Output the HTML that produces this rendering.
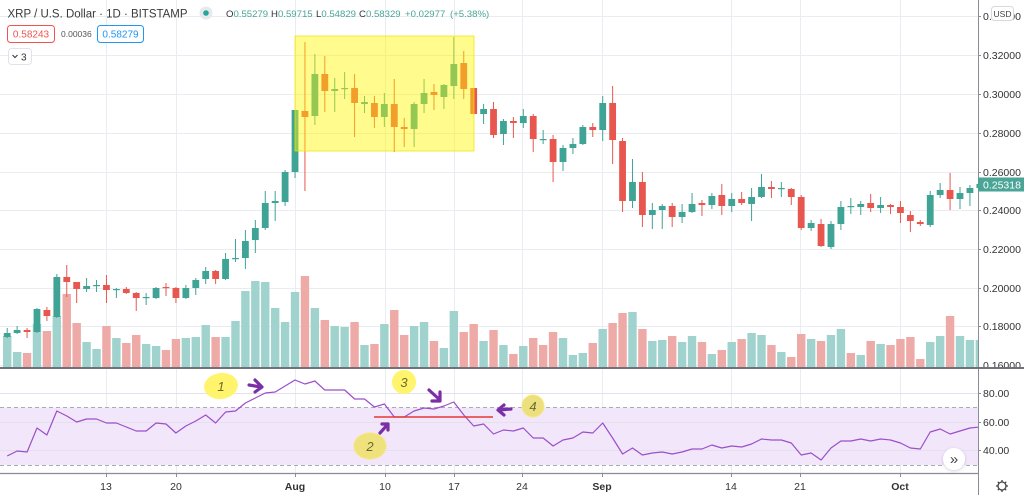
<!DOCTYPE html>
<html><head><meta charset="utf-8">
<style>
html,body{margin:0;padding:0;background:#fff;}
body{width:1024px;height:495px;overflow:hidden;position:relative;font-family:"Liberation Sans",sans-serif;}
svg{position:absolute;left:0;top:0;}
</style></head><body>
<svg id="c" width="1024" height="495" viewBox="0 0 1024 495" font-family="Liberation Sans, sans-serif">
<defs>
  <clipPath id="mp"><rect x="0" y="0" width="978" height="367"/></clipPath>
  <clipPath id="rp"><rect x="0" y="369" width="978" height="104"/></clipPath>
  <filter id="sh" x="-50%" y="-50%" width="200%" height="200%"><feDropShadow dx="0" dy="1" stdDeviation="1.5" flood-color="#000" flood-opacity="0.18"/></filter>
</defs>
<rect x="0" y="0" width="1024" height="495" fill="#fff"/>
<!-- grid -->
<g stroke="#e9edf1" stroke-width="1">
  <line x1="106.5" y1="0" x2="106.5" y2="473"/>
  <line x1="176.5" y1="0" x2="176.5" y2="473"/>
  <line x1="295.5" y1="0" x2="295.5" y2="473"/>
  <line x1="385.5" y1="0" x2="385.5" y2="473"/>
  <line x1="454.5" y1="0" x2="454.5" y2="473"/>
  <line x1="522.5" y1="0" x2="522.5" y2="473"/>
  <line x1="602.5" y1="0" x2="602.5" y2="473"/>
  <line x1="731.5" y1="0" x2="731.5" y2="473"/>
  <line x1="800.5" y1="0" x2="800.5" y2="473"/>
  <line x1="900.5" y1="0" x2="900.5" y2="473"/>
  <line x1="0" y1="16.5" x2="978" y2="16.5"/>
  <line x1="0" y1="55.5" x2="978" y2="55.5"/>
  <line x1="0" y1="94.5" x2="978" y2="94.5"/>
  <line x1="0" y1="133.5" x2="978" y2="133.5"/>
  <line x1="0" y1="172.5" x2="978" y2="172.5"/>
  <line x1="0" y1="210.5" x2="978" y2="210.5"/>
  <line x1="0" y1="249.5" x2="978" y2="249.5"/>
  <line x1="0" y1="288.5" x2="978" y2="288.5"/>
  <line x1="0" y1="326.5" x2="978" y2="326.5"/>
  <line x1="0" y1="365.5" x2="978" y2="365.5"/>
</g>
<!-- RSI band -->
<rect x="0" y="407.5" width="978" height="57.5" fill="#f2e6fb"/>
<g stroke="#e6e0ee" stroke-width="1">
  <line x1="0" y1="393.5" x2="978" y2="393.5"/>
  <line x1="0" y1="422.5" x2="978" y2="422.5"/>
  <line x1="0" y1="450.5" x2="978" y2="450.5"/>
</g>
<g stroke="#a9acb4" stroke-width="1" stroke-dasharray="4,3">
  <line x1="0" y1="407.5" x2="978" y2="407.5"/>
  <line x1="0" y1="465.5" x2="978" y2="465.5"/>
</g>
<g id="vol" clip-path="url(#mp)"></g>
<g id="cdl" clip-path="url(#mp)"></g>
<!-- yellow highlight -->
<rect x="295" y="36" width="179" height="115" fill="rgba(255,246,0,0.45)" stroke="rgba(240,226,0,0.7)" stroke-width="1"/>
<g clip-path="url(#rp)"><polyline id="rsi" fill="none" stroke="#9b4fc8" stroke-width="1.2" stroke-linejoin="round" points=""/></g>

<!-- annotations -->
<line x1="374" y1="417" x2="493" y2="417" stroke="#e53935" stroke-width="1.6"/>
<ellipse cx="221" cy="386" rx="17" ry="13" fill="#fff46c" transform="rotate(-8 221 386)"/>
<text x="221" y="391" font-size="13" font-style="italic" fill="#6d6a2c" text-anchor="middle">1</text>
<ellipse cx="404" cy="382" rx="12" ry="12" fill="#fff46c"/>
<text x="404" y="387" font-size="13" font-style="italic" fill="#6d6a2c" text-anchor="middle">3</text>
<ellipse cx="370" cy="446" rx="16" ry="13" fill="#efe27c" stroke="#f8e860" stroke-width="1.5" stroke-dasharray="1,1"/>
<text x="370" y="451" font-size="13" font-style="italic" fill="#6d6a2c" text-anchor="middle">2</text>
<ellipse cx="533" cy="406" rx="11" ry="11" fill="#ece07e" stroke="#f8e860" stroke-width="1.5" stroke-dasharray="1,1"/>
<text x="533" y="411" font-size="13" font-style="italic" fill="#6d6a2c" text-anchor="middle">4</text>
<g stroke="#7b2fa6" stroke-width="3.2" stroke-linecap="round" stroke-linejoin="round" fill="none">
  <path d="M249 385 L261 387 M255 380 L262 387 L255 392"/>
  <path d="M429 390 L440 400 M440 392 L440 401 L432 401"/>
  <path d="M380 433 L388 424 M382 424 L388 424 L388 430"/>
  <path d="M511 409 L499 410 M504 405 L498 410 L504 415"/>
</g>

<!-- axis lines -->
<line x1="978.5" y1="0" x2="978.5" y2="495" stroke="#8a8d95" stroke-width="1"/>
<line x1="0" y1="473.5" x2="978" y2="473.5" stroke="#8a8d95" stroke-width="1.2"/>

<!-- price labels -->
<g font-size="10.5" fill="#333" >
  <text x="983" y="20">0.34000</text>
  <text x="983" y="59">0.32000</text>
  <text x="983" y="98">0.30000</text>
  <text x="983" y="137">0.28000</text>
  <text x="983" y="176">0.26000</text>
  <text x="983" y="214">0.24000</text>
  <text x="983" y="253">0.22000</text>
  <text x="983" y="292">0.20000</text>
  <text x="983" y="330">0.18000</text>
  <text x="983" y="369">0.16000</text>
  <text x="983" y="397">80.00</text>
  <text x="983" y="426">60.00</text>
  <text x="983" y="454">40.00</text>
</g>
<g stroke="#8a8d95" stroke-width="1">
  <line x1="978" y1="16.5" x2="981" y2="16.5"/><line x1="978" y1="55.5" x2="981" y2="55.5"/>
  <line x1="978" y1="94.5" x2="981" y2="94.5"/><line x1="978" y1="133.5" x2="981" y2="133.5"/>
  <line x1="978" y1="172.5" x2="981" y2="172.5"/><line x1="978" y1="210.5" x2="981" y2="210.5"/>
  <line x1="978" y1="249.5" x2="981" y2="249.5"/><line x1="978" y1="288.5" x2="981" y2="288.5"/>
  <line x1="978" y1="326.5" x2="981" y2="326.5"/><line x1="978" y1="393.5" x2="981" y2="393.5"/>
  <line x1="978" y1="422.5" x2="981" y2="422.5"/><line x1="978" y1="450.5" x2="981" y2="450.5"/>
</g>
<!-- current price -->
<rect x="978" y="177.5" width="46" height="14" fill="#4aa597"/>
<text x="983" y="188.5" font-size="10.5" fill="#fff">0.25318</text>
<!-- USD box -->
<rect x="991.5" y="6.5" width="22" height="14" rx="3" fill="#fff" stroke="#d6d9de"/>
<text x="1002.5" y="17" font-size="8.5" fill="#444" text-anchor="middle">USD</text>

<!-- pane separator -->
<line x1="0" y1="368" x2="1024" y2="368" stroke="#6f727b" stroke-width="2"/>

<!-- x-axis -->
<g stroke="#8a8d95" stroke-width="1">
  <line x1="106.5" y1="473" x2="106.5" y2="477"/><line x1="176.5" y1="473" x2="176.5" y2="477"/>
  <line x1="295.5" y1="473" x2="295.5" y2="477"/><line x1="385.5" y1="473" x2="385.5" y2="477"/>
  <line x1="454.5" y1="473" x2="454.5" y2="477"/><line x1="522.5" y1="473" x2="522.5" y2="477"/>
  <line x1="602.5" y1="473" x2="602.5" y2="477"/><line x1="731.5" y1="473" x2="731.5" y2="477"/>
  <line x1="800.5" y1="473" x2="800.5" y2="477"/><line x1="900.5" y1="473" x2="900.5" y2="477"/>
</g>
<g font-size="10.5" fill="#333" text-anchor="middle">
  <text x="106" y="490">13</text>
  <text x="176" y="490">20</text>
  <text x="295" y="490" font-weight="bold">Aug</text>
  <text x="385" y="490">10</text>
  <text x="454" y="490">17</text>
  <text x="522" y="490">24</text>
  <text x="602" y="490" font-weight="bold">Sep</text>
  <text x="731" y="490">14</text>
  <text x="800" y="490">21</text>
  <text x="900" y="490" font-weight="bold">Oct</text>
</g>
<!-- scroll button -->
<circle cx="954" cy="459" r="11" fill="#fff" filter="url(#sh)"/>
<text x="954" y="464" font-size="15" fill="#444" text-anchor="middle">»</text>
<!-- gear -->
<g stroke="#444" stroke-width="1.3" fill="none">
  <circle cx="1002" cy="486" r="4"/>
  <path d="M1002 480v2M1002 490v2M996 486h2M1006 486h2M997.8 481.8l1.4 1.4M1004.8 488.8l1.4 1.4M997.8 490.2l1.4-1.4M1004.8 483.2l1.4-1.4"/>
</g>

<!-- header legend -->
<text x="7.5" y="17.5" font-size="11.5" fill="#3a3a3a" textLength="180" lengthAdjust="spacingAndGlyphs">XRP / U.S. Dollar · 1D · BITSTAMP</text>
<circle cx="206" cy="13" r="6.5" fill="#e6eaed"/>
<circle cx="206" cy="13" r="2.8" fill="#26a69a"/>
<g font-size="9.6" fill="#4aa597">
  <text x="226" y="17"><tspan fill="#333">O</tspan>0.55279</text>
  <text x="271" y="17"><tspan fill="#333">H</tspan>0.59715</text>
  <text x="316" y="17"><tspan fill="#333">L</tspan>0.54829</text>
  <text x="359" y="17"><tspan fill="#333">C</tspan>0.58329</text>
  <text x="405" y="17">+0.02977</text>
  <text x="450" y="17">(+5.38%)</text>
</g>
<rect x="7.5" y="25.5" width="47" height="17" rx="3" fill="#fff" stroke="#ef5350"/>
<text x="31" y="37.5" font-size="10" fill="#ef5350" text-anchor="middle">0.58243</text>
<text x="61" y="37" font-size="8.5" fill="#555">0.00036</text>
<rect x="97.5" y="25.5" width="46" height="17" rx="3" fill="#fff" stroke="#2196f3"/>
<text x="120.5" y="37.5" font-size="10" fill="#2196f3" text-anchor="middle">0.58279</text>
<rect x="8.5" y="48.5" width="23" height="16" rx="3" fill="#fff" stroke="#e0e3eb"/>
<polyline points="12.5,55 15,57.5 17.5,55" fill="none" stroke="#444" stroke-width="1.2"/>
<text x="21" y="60.5" font-size="10" fill="#333">3</text>
</svg>
<script>
(function(){
var NS="http://www.w3.org/2000/svg";
function X(i){return 7.2+9.925*i;}
var cd=[
['g',333,337,328,338],['g',330,333,326,334],['r',330,332,328,338],['g',309,332,308,333],['r',310,316,307,321],
['g',277,317,274,318],['r',277,282,265,297],['r',282,289,282,303],['g',286,289,278,292],['g',285,286,280,292],
['r',285,290,275,303],['g',289,290,288,298],['r',289,293,287,294],['r',293,298,292,311],['g',297,298,293,305],
['g',288,298,287,299],['r',287,288,283,296],['r',288,298,287,303],['g',288,298,285,299],['g',280,288,278,295],
['g',271,279,267,284],['r',271,279,270,284],['g',259,279,253,280],['g',258,259,239,262],['g',241,258,230,269],
['g',228,240,220,253],['g',203,228,191,230],['g',201,203,191,221],['g',172,202,170,206],['g',110,172,110,178],
['r',111,117,42,191],['g',74,116,54,125],['r',74,91,56,112],['g',89,91,78,112],['g',88,89,72,99],
['r',88,103,74,137],['g',102,104,96,113],['r',103,117,96,128],['g',104,117,93,127],['r',104,127,79,152],
['r',127,129,118,147],['g',104,129,102,147],['g',93,104,79,113],['r',92,95,84,110],['g',85,97,84,109],
['g',64,86,37,99],['r',63,89,51,99],['r',88,114,88,114],['g',109,114,104,124],['r',109,135,102,138],
['g',121,134,119,145],['r',121,123,117,138],['g',116,123,109,128],['r',116,139,114,152],['g',139,140,130,144],
['r',139,162,135,182],['g',148,162,145,171],['g',144,148,138,154],['g',127,144,125,145],['r',127,130,123,137],
['g',103,130,96,141],['r',103,140,86,164],['r',141,201,138,212],['g',182,201,159,208],['r',182,215,172,227],
['g',210,215,203,229],['g',206,210,204,229],['r',206,217,203,227],['g',212,217,204,223],['g',204,212,193,213],
['r',203,205,200,216],['g',196,205,193,209],['r',195,206,184,215],['g',199,206,193,212],['r',199,203,192,205],
['g',197,204,188,221],['g',187,197,174,198],['r',187,189,181,198],['g',188,189,182,197],['r',189,197,188,205],
['r',197,228,195,230],['g',223,228,220,231],['r',224,246,219,247],['g',224,247,221,249],['g',207,224,201,230],
['g',206,207,198,214],['g',204,207,201,215],['r',203,208,194,212],['g',205,208,197,213],['r',205,207,204,214],
['r',207,213,201,223],['r',215,221,211,232],['r',222,224,220,226],['g',195,225,191,227],['g',190,195,183,198],
['r',190,199,173,210],['g',193,199,187,209],['g',188,193,185,206],['g',184,188,180,190]];
var vt=[336,352,353,324,331,316,294,323,342,349,326,338,343,335,344,346,350,339,338,337,325,337,337,321,291,281,282,308,322,292,276,308,320,326,327,322,345,344,324,310,335,326,322,341,348,311,332,324,341,330,345,354,346,338,345,332,338,355,353,343,329,323,313,312,329,341,340,336,342,336,342,354,350,342,339,333,335,345,352,357,334,339,341,335,329,353,355,341,344,345,339,337,359,342,336,316,336,340,340];
var vc="ggrgrgrrgg"+"rgrrggrrgg"+"grgggggggg"+"rgrggrgrgr"+"rggrggrrgr"+"grgrrrgggr"+"grrgrggrgg"+"rgrgrggrgr"+"rgrggrgrgr"+"rrrggrggg";
var rs=[456,451,452,428,435,411,416,422,419,419,423,423,427,431,431,423,424,433,426,421,415,423,412,411,403,398,393,392,386,380,384,381,390,390,390,399,399,407,404,417,417,411,408,409,406,402,415,426,424,434,430,431,428,438,438,446,440,438,432,433,423,438,454,448,455,453,452,454,452,449,449,445,448,446,447,444,439,440,440,443,455,453,460,448,441,441,439,441,439,440,443,448,449,432,429,434,431,428,427];
var G="#3fa395",R="#e8574f",VG="#a0d3cd",VR="#eeaaa6";
var vg=document.getElementById('vol'),cg=document.getElementById('cdl');
function el(t,a,p){var e=document.createElementNS(NS,t);for(var k in a)e.setAttribute(k,a[k]);p.appendChild(e);return e;}
for(var i=0;i<vt.length;i++){
  var x=X(i);
  el('rect',{x:(x-4.2).toFixed(2),y:vt[i],width:8.4,height:368-vt[i],fill:vc.charAt(i)=='g'?VG:VR},vg);
}
for(var i=0;i<cd.length;i++){
  var c=cd[i],x=X(i),col=c[0]=='g'?G:R;
  if(c[4]>c[3]) el('line',{x1:x.toFixed(2),x2:x.toFixed(2),y1:c[3],y2:c[4],stroke:col,'stroke-width':1},cg);
  var h=Math.max(1.2,c[2]-c[1]);
  el('rect',{x:(x-3.4).toFixed(2),y:c[1],width:6.8,height:h,fill:col},cg);
}
var pts=[];for(var i=0;i<rs.length;i++)pts.push(X(i).toFixed(1)+','+rs[i]);
document.getElementById('rsi').setAttribute('points',pts.join(' '));
})();
</script>
</body></html>
